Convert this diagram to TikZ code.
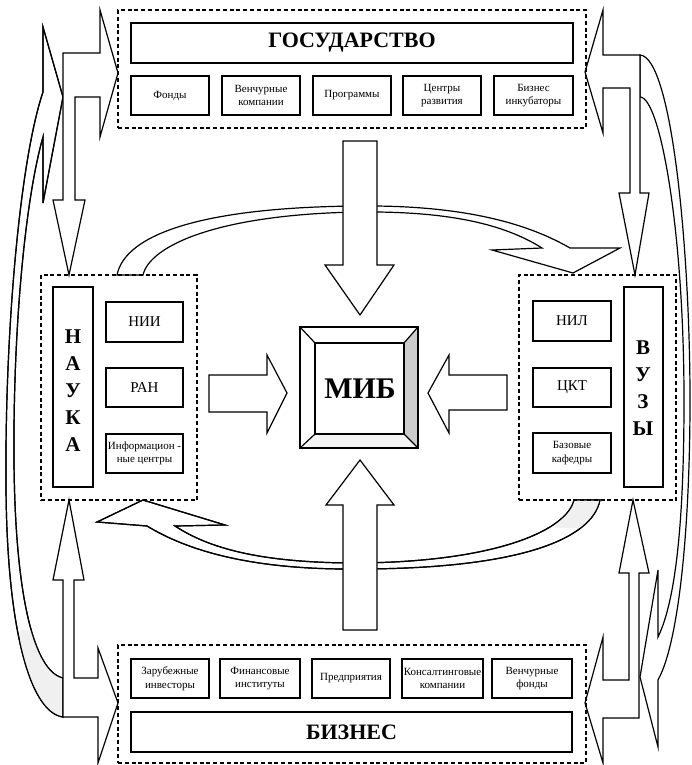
\documentclass[tikz,border=0pt]{standalone}
\usepackage{fontspec}
\setmainfont{Liberation Serif}
\begin{document}
\begin{tikzpicture}[x=1pt,y=-1pt,
  dashbox/.style={draw, line width=1.1pt, dash pattern=on 4pt off 2.8pt},
  bigbox/.style={draw, line width=2pt, inner sep=0pt},
  smallbox/.style={draw, line width=1.2pt, inner sep=0pt, align=center,
    font=\fontsize{11}{13.5}\selectfont},
  midbox/.style={smallbox, font=\fontsize{15}{17}\selectfont},
  blockarrow/.style={draw, fill=white, line width=1.2pt, line join=miter},
  stipple/.style={fill=gray!12},
  title/.style={font=\fontsize{22}{26}\selectfont\bfseries},
  column/.style={align=center, font=\fontsize{21}{27}\selectfont\bfseries}]

\newcommand\rbox[7]{%
  \pgfmathsetmacro\cx{(#3+#5)/2}\pgfmathsetmacro\cy{(#4+#6)/2}%
  \pgfmathsetmacro\ww{#5-#3}\pgfmathsetmacro\hh{#6-#4}%
  \node[#2, minimum width=\ww pt, minimum height=\hh pt] (#1) at (\cx,\cy) {#7};}

% outlines of the curved flows
\def\upperarc{(542,248) .. controls (510,228) and (460,211) .. (360,212)
    .. controls (220,214) and (150,245) .. (143,275)
  -- (117,275) .. controls (125,235) and (200,207) .. (360,206)
    .. controls (470,205) and (532,226) .. (570,248)
  -- (620,248) -- (573,273) -- (492,250) -- cycle}
\def\lowerarc{(175,526) .. controls (207,547) and (257,563) .. (357,563)
    .. controls (497,562) and (567,530) .. (574,500)
  -- (600,500) .. controls (592,540) and (517,569) .. (357,569)
    .. controls (247,570) and (185,549) .. (147,526)
  -- (97,522) -- (143,500) -- (225,525) -- cycle}
\def\leftflow{(43,92) -- (43,27) -- (63,97) -- (43,203) -- (43,137)
  .. controls (25,200) and (13,330) .. (14,460)
  .. controls (15,600) and (35,672) .. (63,678)
  -- (63,717) .. controls (28,712) and (6,620) .. (6,480)
  .. controls (5,330) and (20,160) .. (43,92) -- cycle}
\def\rightflow{(658,637) -- (658,570) -- (640,677) -- (658,747) -- (658,680)
  .. controls (680,640) and (690,520) .. (690,400)
  .. controls (690,250) and (672,57) .. (640,55)
  -- (640,97) .. controls (660,97) and (684,230) .. (684,400)
  .. controls (684,520) and (676,600) .. (658,637) -- cycle}

\useasboundingbox (0,0) rectangle (691,765);

% ---------- curved flows between the groups ----------
\draw[blockarrow] \upperarc;
\draw[blockarrow] \lowerarc;
\begin{scope}
  \clip \lowerarc;
  \fill[stipple] (555,498) rectangle (602,528);
\end{scope}
\draw[line width=1.2pt, line join=miter] \lowerarc;
\draw[blockarrow] \leftflow;
\begin{scope}
  \clip \leftflow;
  \fill[stipple] (20,630) rectangle (63,718);
\end{scope}
\draw[line width=1.2pt, line join=miter] \leftflow;
\draw[blockarrow] \rightflow;

% ---------- corner arrows ----------
\draw[blockarrow] (63,53) -- (100,53) -- (100,10) -- (118,73) -- (100,137)
  -- (100,97) -- (75,97) -- (75,200) -- (85,200) -- (69,275) -- (53,200)
  -- (63,200) -- cycle;
\draw[blockarrow] (640,55) -- (603,55) -- (603,10) -- (585,72) -- (603,133)
  -- (603,88) -- (630,88) -- (630,193) -- (619,193) -- (635,275) -- (649,193)
  -- (640,193) -- cycle;
\draw[blockarrow] (63,717) -- (98,717) -- (98,763) -- (118,703) -- (98,648)
  -- (98,678) -- (74,678) -- (74,580) -- (84,580) -- (69,500) -- (53,580)
  -- (63,580) -- cycle;
\draw[blockarrow] (639,718) -- (603,718) -- (603,763) -- (585,703) -- (603,637)
  -- (603,680) -- (629,680) -- (629,573) -- (619,573) -- (633,500) -- (649,573)
  -- (639,573) -- cycle;

% ---------- arrows into the centre ----------
\draw[blockarrow] (343,141) -- (377,141) -- (377,265) -- (394,265) -- (360,315)
  -- (325,265) -- (343,265) -- cycle;
\draw[blockarrow] (343,630) -- (377,630) -- (377,505) -- (394,505) -- (360,460)
  -- (326,505) -- (343,505) -- cycle;
\draw[blockarrow] (209,375) -- (267,375) -- (267,355) -- (287,393) -- (267,433)
  -- (267,412) -- (209,412) -- cycle;
\draw[blockarrow] (507,375) -- (449,375) -- (449,355) -- (428,393) -- (449,433)
  -- (449,410) -- (507,410) -- cycle;

% ---------- centre: bevelled block ----------
\begin{scope}[line width=1.2pt, line join=miter]
  \fill[gray!8] (315,434) -- (404,434) -- (418,448) -- (300,448) -- cycle;
  \fill[gray!40] (404,343) -- (418,327) -- (418,448) -- (404,434) -- cycle;
  \draw (300,327) rectangle (418,448);
  \draw (315,343) rectangle (404,434);
  \draw (300,327) -- (315,343) (418,327) -- (404,343)
        (300,448) -- (315,434) (418,448) -- (404,434);
\end{scope}
\node[font=\fontsize{30}{34}\selectfont\bfseries] (mib) at (360,389) {МИБ};

% ---------- state ----------
\rbox{gosgrp}{dashbox}{118}{10}{586}{128}{}
\rbox{gos}{bigbox, title}{131}{23}{573}{63}{ГОСУДАРСТВО}
\rbox{g1}{smallbox}{131}{76}{209}{115}{Фонды}
\rbox{g2}{smallbox}{222}{76}{300}{115}{Венчурные\\компании}
\rbox{g3}{smallbox}{313}{76}{391}{115}{Программы}
\rbox{g4}{smallbox}{403}{76}{481}{115}{Центры\\развития}
\rbox{g5}{smallbox}{494}{76}{573}{115}{Бизнес\\инкубаторы}

% ---------- business ----------
\rbox{bizgrp}{dashbox}{118}{645}{586}{763}{}
\rbox{b1}{smallbox}{131}{659}{209}{698}{Зарубежные\\инвесторы}
\rbox{b2}{smallbox}{220}{659}{300}{698}{Финансовые\\институты}
\rbox{b3}{smallbox}{312}{659}{390}{698}{Предприятия}
\rbox{b4}{smallbox}{402}{659}{483}{698}{Консалтинговые\\компании}
\rbox{b5}{smallbox}{492}{659}{572}{698}{Венчурные\\фонды}
\rbox{biz}{bigbox, title}{131}{712}{572}{752}{БИЗНЕС}

% ---------- science ----------
\rbox{naukagrp}{dashbox}{41}{275}{197}{500}{}
\rbox{nauka}{bigbox}{53}{287}{93}{487}{}
\node[column] (naukatxt) at (73,391) {Н\\А\\У\\К\\А};
\rbox{n1}{midbox}{106}{302}{183}{342}{НИИ}
\rbox{n2}{midbox}{106}{368}{183}{407}{РАН}
\rbox{n3}{smallbox}{106}{434}{183}{473}{Информацион -\\ные центры}

% ---------- universities ----------
\rbox{vuzgrp}{dashbox}{519}{275}{676}{500}{}
\rbox{vuz}{bigbox}{624}{287}{663}{487}{}
\node[column] (vuztxt) at (643,388) {В\\У\\З\\Ы};
\rbox{v1}{midbox}{533}{301}{611}{341}{НИЛ}
\rbox{v2}{midbox}{533}{368}{611}{407}{ЦКТ}
\rbox{v3}{smallbox}{533}{433}{611}{473}{Базовые\\кафедры}
\end{tikzpicture}
\end{document}
